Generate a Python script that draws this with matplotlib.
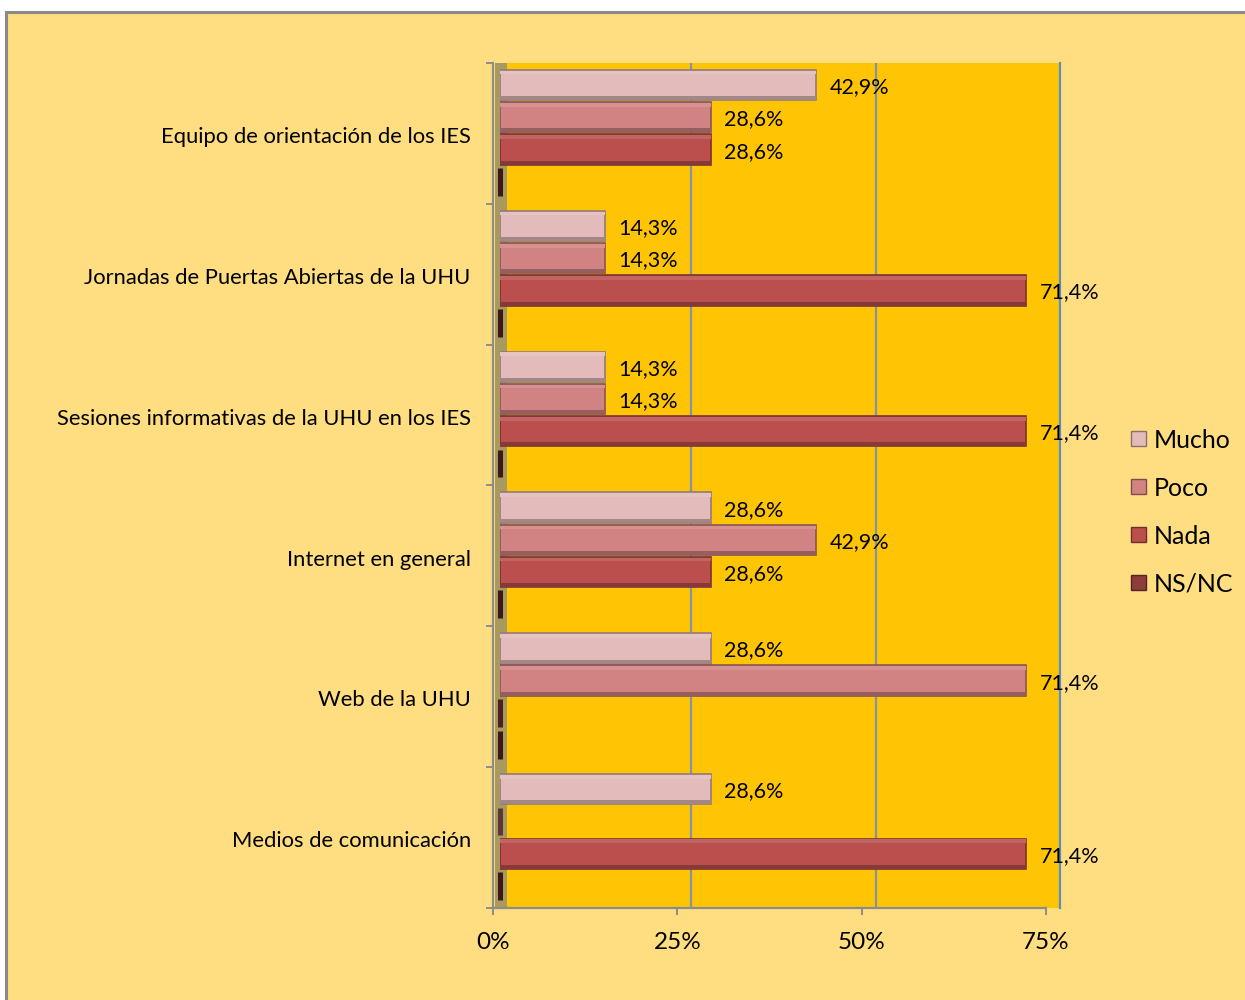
import numpy as np
import matplotlib.pyplot as plt
from matplotlib.patches import Rectangle, Patch
from matplotlib.colors import to_rgb

# data (percent)
categories = ["Equipo de orientación de los IES",
              "Jornadas de Puertas Abiertas de la UHU",
              "Sesiones informativas de la UHU en los IES",
              "Internet en general",
              "Web de la UHU",
              "Medios de comunicación"]
series = ["Mucho", "Poco", "Nada", "NS/NC"]
mucho = [42.9, 14.3, 14.3, 28.6, 28.6, 28.6]
poco = [28.6, 14.3, 14.3, 42.9, 71.4, 0.0]
nada = [28.6, 71.4, 71.4, 28.6, 0.0, 71.4]
nsnc = [0.0, 0.0, 0.0, 0.0, 0.0, 0.0]
x_ticks = [0, 25, 50, 75]
x_tick_labels = ["0%", "25%", "50%", "75%"]

colors = ["#E3BBBB", "#D18282", "#BA4F4D", "#8E3B3B"]

W, H = 1245, 1000
plt.rcParams['font.family'] = ['Lato', 'DejaVu Sans']
fig = plt.figure(figsize=(W / 100, H / 100), dpi=100)
fig.patch.set_facecolor('white')


def box(x0, y0, x1, y1):
    # pixel box (top-left origin) -> figure fraction [l, b, w, h]
    return [x0 / W, 1 - y1 / H, (x1 - x0) / W, (y1 - y0) / H]


def shade(c, f):
    r, g, b = to_rgb(c)
    if f < 1:
        return (r * f, g * f, b * f)
    return (r + (1 - r) * (f - 1), g + (1 - g) * (f - 1), b + (1 - b) * (f - 1))


# outer chart area with border on top/left
fig.add_artist(Rectangle((6 / W, -0.1), 1.0, 1.1 - 12.5 / H, transform=fig.transFigure,
                         facecolor='#FFDE82', edgecolor='#8A8A8A', lw=2.2, zorder=0))

n = len(categories)

# back wall
ax_back = fig.add_axes(box(507, 63, 1060, 908), zorder=1)
ax_back.set_facecolor('#FFC505')
ax_back.set_xlim(0, 75)
ax_back.set_ylim(n, 0)
for t in x_ticks[1:-1]:
    ax_back.axvline(t, color='#8393A8', lw=1.6)
for s in ['top', 'left', 'bottom']:
    ax_back.spines[s].set_visible(False)
ax_back.spines['right'].set_color('#5C8DC4')
ax_back.spines['right'].set_linewidth(1.6)
ax_back.set_xticks([])
ax_back.set_yticks([])

# side wall (floor of the 3D bars)
fig.add_artist(Rectangle((494.5 / W, 1 - 908 / H), 12.5 / W, 845 / H, transform=fig.transFigure,
                         facecolor='#A8995E', edgecolor='none', zorder=1.5))

# bars at mid depth
ax_bar = fig.add_axes(box(500, 63, 1053, 908), zorder=2)
ax_bar.set_facecolor('none')
ax_bar.set_xlim(0, 75)
ax_bar.set_ylim(n, 0)
ax_bar.axis('off')

h = 0.215
base = np.arange(n) + 0.5
for k, (name, vals) in enumerate(zip(series, [mucho, poco, nada, nsnc])):
    y = base + (k - 1.5) * 0.229
    c = colors[k]
    for yi, v in zip(y, vals):
        if v > 0:
            ax_bar.barh(yi, v, height=h, color=c, edgecolor=shade(c, 0.65), lw=1.2)
            ax_bar.barh(yi - h / 2 + h * 0.09, v, height=h * 0.12, color=shade(c, 1.12), lw=0)
            ax_bar.barh(yi + h / 2 - h * 0.07, v, height=h * 0.12, color=shade(c, 0.72), lw=0)
            lab = f"{v:.1f}".replace('.', ',') + '%'
            ax_bar.annotate(lab, xy=(v, yi), xytext=(9.5, -1.5), textcoords='offset points',
                            ha='left', va='center', fontsize=15.5, color='black')
        else:
            zb = ax_bar.barh(yi, 0, height=h * 0.92, color=shade(c, 0.42),
                             edgecolor=shade(c, 0.42), lw=3.6)
            for p in zb:
                p.set_clip_on(False)

# front axes
ax = fig.add_axes(box(493, 63, 1046, 908), zorder=3)
ax.set_facecolor('none')
ax.set_xlim(0, 75)
ax.set_ylim(n, 0)
for s in ['top', 'right']:
    ax.spines[s].set_visible(False)
for s in ['left', 'bottom']:
    ax.spines[s].set_color('#8C8C8C')
    ax.spines[s].set_linewidth(1.6)
ax.set_xticks(x_ticks)
ax.set_xticklabels(x_tick_labels, fontsize=17.5)
ax.tick_params(axis='x', direction='out', length=5, width=1.4, color='#8C8C8C', pad=12)
ax.set_yticks(base + 0.012)
ax.set_yticklabels(categories, fontsize=15.8)
ax.tick_params(axis='y', which='major', length=0, pad=16)
ax.set_yticks(np.arange(n + 1), minor=True)
ax.tick_params(axis='y', which='minor', direction='out', length=5, width=1.4, color='#8C8C8C')

handles = [Patch(facecolor=c, edgecolor=shade(c, 0.6), lw=1) for c in colors]
fig.legend(handles, series, loc='center left', bbox_to_anchor=(1108.5 / W, 1 - 512 / H),
           frameon=False, fontsize=18, handlelength=0.58, handleheight=0.58,
           handletextpad=0.32, labelspacing=1.0)

fig.savefig('out.png', dpi=100)
